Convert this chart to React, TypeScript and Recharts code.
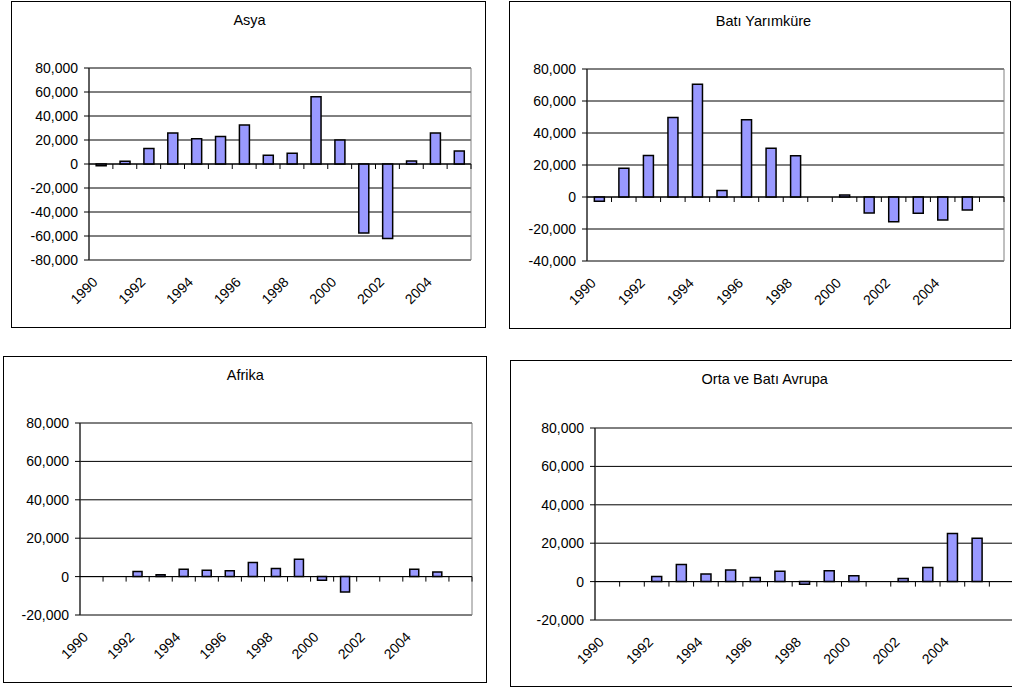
import React from 'react';
import {
  BarChart,
  Bar,
  XAxis,
  YAxis,
  CartesianGrid,
  ReferenceLine,
  ReferenceArea,
} from 'recharts';

// yıllar (bazı grafiklerde sonda boş bir kategori var)
const years = [
  '1990', '1991', '1992', '1993', '1994', '1995', '1996', '1997',
  '1998', '1999', '2000', '2001', '2002', '2003', '2004', '2005',
];
const yearsWithBlank = [...years, ''];

const asyaValues = [
  -1500, 2200, 13000, 25800, 21000, 23000, 32400, 7200,
  8900, 56000, 20000, -57600, -62000, 2500, 25800, 10800,
];
const batiValues = [
  -2700, 17900, 26000, 49700, 70500, 4000, 48300, 30400,
  25800, null, 1200, -10000, -15400, -10200, -14400, -8100, null,
];
const afrikaValues = [
  null, null, 2600, 1000, 3800, 3300, 3100, 7300,
  4200, 9000, -1900, -8000, null, null, 3800, 2400, null,
];
const ortaValues = [
  null, null, 2600, 8900, 4000, 6100, 2100, 5400,
  -1400, 5600, 3100, null, 1600, 7300, 25000, 22600, null,
];

const ticks80 = [-80000, -60000, -40000, -20000, 0, 20000, 40000, 60000, 80000];
const ticks40 = [-40000, -20000, 0, 20000, 40000, 60000, 80000];
const ticks20 = [-20000, 0, 20000, 40000, 60000, 80000];

const FONT = '"Liberation Sans", Arial, Helvetica, sans-serif';
const BAR_FILL = '#9999FF';
const BORDER_GRAY = '#808080';

const formatNumber = (v: number) => v.toLocaleString('en-US');

// döndürülmüş yıl etiketleri
const YearTick = (props: any) => {
  const { x, y, payload } = props;
  if (!payload || !payload.value) return null;
  const px = x - 2.5;
  const py = y + 23;
  return (
    <text
      x={px}
      y={py}
      textAnchor="end"
      fontSize={14}
      fontFamily={FONT}
      fill="#000"
      transform={`rotate(-45, ${px}, ${py})`}
    >
      {payload.value}
    </text>
  );
};

// sıfır çizgisi + kategori sınırlarındaki küçük çentikler
const zeroAxis = (count: number) => (props: any) => {
  const { x1, x2, y1 } = props;
  const step = (x2 - x1) / count;
  return (
    <g>
      <line x1={x1} y1={y1} x2={x2} y2={y1} stroke="#000" strokeWidth={1} />
      {Array.from({ length: count }, (_, i) => (
        <line
          key={i}
          x1={x1 + step * (i + 1)}
          x2={x1 + step * (i + 1)}
          y1={y1}
          y2={y1 + 5}
          stroke="#000"
          strokeWidth={1}
        />
      ))}
    </g>
  );
};

interface PanelProps {
  title: string;
  categories: string[];
  values: (number | null)[];
  ticks: number[];
  left: number;
  top: number;
  width: number;
  height: number;
  plot: { left: number; top: number; right: number; bottom: number };
  titleX: number;
  titleY: number;
}

const Panel: React.FC<PanelProps> = ({
  title, categories, values, ticks, left, top, width, height, plot, titleX, titleY,
}) => {
  const chartW = width - 2;
  const chartH = height - 2;
  const data = categories.map((year, i) => ({ year, value: values[i] ?? null }));
  const lo = ticks[0];
  const hi = ticks[ticks.length - 1];

  return (
    <div
      style={{
        position: 'absolute',
        left,
        top,
        width,
        height,
        boxSizing: 'border-box',
        border: '1px solid #000',
        background: '#fff',
      }}
    >
      <div
        style={{
          position: 'absolute',
          left: titleX - 200,
          top: titleY - 9,
          width: 400,
          textAlign: 'center',
          fontFamily: FONT,
          fontSize: 14.5,
          lineHeight: '18px',
          color: '#000',
        }}
      >
        {title}
      </div>
      <div style={{ position: 'absolute', left: 0, top: 0 }}>
        <BarChart
          width={chartW}
          height={chartH}
          data={data}
          margin={{ top: plot.top, right: chartW - plot.right, bottom: 0, left: 0 }}
          barCategoryGap="30%"
        >
          <CartesianGrid vertical={false} stroke="#000" strokeWidth={1} />
          <ReferenceArea y1={lo} y2={hi} fill="none" stroke={BORDER_GRAY} strokeWidth={1} ifOverflow="visible" />
          <XAxis
            dataKey="year"
            interval={1}
            height={chartH - plot.bottom}
            axisLine={false}
            tickLine={false}
            tickSize={0}
            tickMargin={0}
            tick={<YearTick />}
          />
          <YAxis
            width={plot.left}
            domain={[lo, hi]}
            ticks={ticks}
            allowDataOverflow
            tickFormatter={formatNumber}
            axisLine={{ stroke: '#000' }}
            tickLine={{ stroke: '#000' }}
            tickSize={5}
            tickMargin={6}
            tick={{ fontSize: 14, fill: '#000', fontFamily: FONT }}
          />
          <Bar
            dataKey="value"
            fill={BAR_FILL}
            stroke="#000"
            strokeWidth={1.5}
            isAnimationActive={false}
          />
          <ReferenceLine y={0} ifOverflow="visible" shape={zeroAxis(categories.length)} />
        </BarChart>
      </div>
    </div>
  );
};

export default function App() {
  return (
    <div
      style={{
        position: 'absolute',
        left: 0,
        top: 0,
        width: 1012,
        height: 687,
        overflow: 'hidden',
        background: '#fff',
      }}
    >
      <Panel
        title="Asya"
        categories={years}
        values={asyaValues}
        ticks={ticks80}
        left={11}
        top={1}
        width={475}
        height={327}
        plot={{ left: 77, top: 66, right: 459, bottom: 258 }}
        titleX={237.5}
        titleY={18}
      />
      <Panel
        title="Batı Yarımküre"
        categories={yearsWithBlank}
        values={batiValues}
        ticks={ticks40}
        left={509}
        top={1}
        width={502}
        height={328}
        plot={{ left: 77, top: 67, right: 494, bottom: 259 }}
        titleX={253.5}
        titleY={18.7}
      />
      <Panel
        title="Afrika"
        categories={yearsWithBlank}
        values={afrikaValues}
        ticks={ticks20}
        left={3}
        top={356}
        width={484}
        height={327}
        plot={{ left: 76, top: 66, right: 468, bottom: 258 }}
        titleX={241.3}
        titleY={18}
      />
      <Panel
        title="Orta ve Batı Avrupa"
        categories={yearsWithBlank}
        values={ortaValues}
        ticks={ticks20}
        left={510}
        top={360}
        width={512}
        height={327}
        plot={{ left: 84, top: 67, right: 503, bottom: 259 }}
        titleX={253.7}
        titleY={18}
      />
    </div>
  );
}
